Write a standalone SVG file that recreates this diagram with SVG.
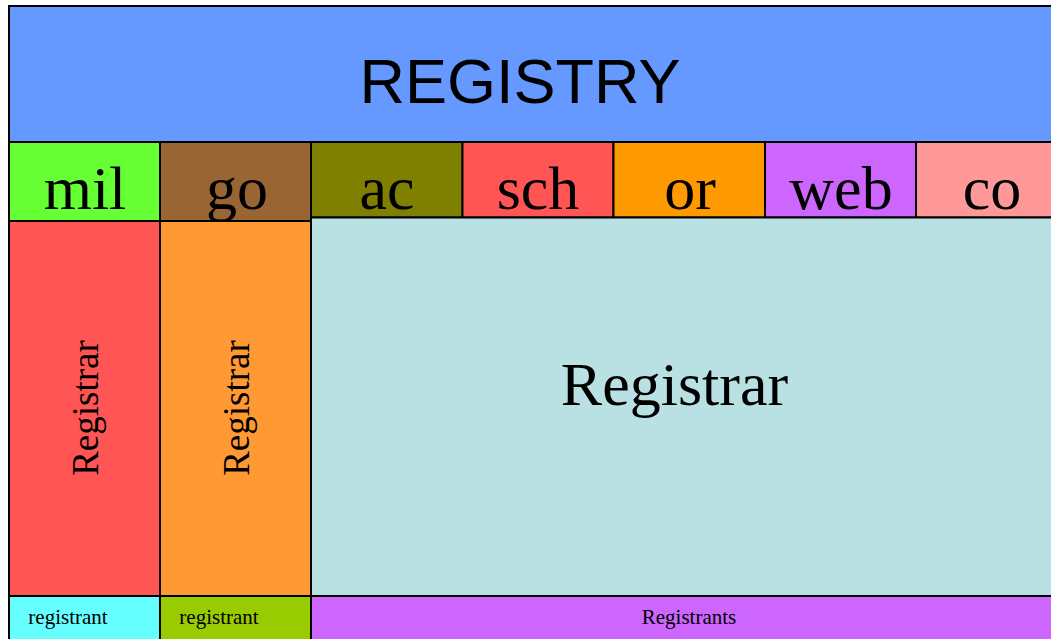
<svg xmlns="http://www.w3.org/2000/svg" width="1051" height="639" viewBox="0 0 1051 639">
<style>
.b{stroke:#000;stroke-width:2}
.s{font-family:"Liberation Serif","Times New Roman",serif;fill:#000;text-anchor:middle}
.h{font-family:"Liberation Sans",Arial,sans-serif;fill:#000;text-anchor:middle}
</style>
<rect width="1051" height="639" fill="#fff"/>
<g id="registry"><rect class="b" x="9" y="6" width="1060" height="136" fill="#6699FF"/><text class="h" x="520" y="103" font-size="63">REGISTRY</text></g>
<g id="mil"><rect class="b" x="9" y="142" width="151" height="79" fill="#66FF33"/><text class="s" x="85" y="209" font-size="62">mil</text></g>
<g id="go"><rect class="b" x="160" y="142" width="151" height="79" fill="#996633"/><text class="s" x="237" y="209" font-size="62">go</text></g>
<g id="ac"><rect class="b" x="311" y="142" width="151.5" height="75.5" fill="#808000"/><text class="s" x="387" y="209" font-size="62">ac</text></g>
<g id="sch"><rect class="b" x="462.5" y="142" width="151" height="75.5" fill="#FF5555"/><text class="s" x="538" y="209" font-size="62">sch</text></g>
<g id="or"><rect class="b" x="613.5" y="142" width="151.5" height="75.5" fill="#FF9900"/><text class="s" x="690" y="209" font-size="62">or</text></g>
<g id="web"><rect class="b" x="765" y="142" width="151" height="75.5" fill="#CC66FF"/><text class="s" x="841" y="209" font-size="62">web</text></g>
<g id="co"><rect class="b" x="916" y="142" width="160" height="75.5" fill="#FF9999"/><text class="s" x="992" y="209" font-size="62">co</text></g>
<g id="registrar-mil"><rect class="b" x="9" y="221" width="151" height="375" fill="#FF5555"/><text class="s" transform="translate(98,408) rotate(-90)" font-size="37">Registrar</text></g>
<g id="registrar-go"><rect class="b" x="160" y="221" width="151" height="375" fill="#FF9933"/><text class="s" transform="translate(249,408) rotate(-90)" font-size="37">Registrar</text></g>
<g id="registrar"><rect class="b" x="311" y="217.5" width="760" height="378.5" fill="#B9E0E3"/><text class="s" x="674.5" y="405" font-size="62">Registrar</text></g>
<g id="registrant-mil"><rect class="b" x="9" y="596" width="151" height="60" fill="#66FFFF"/><text class="s" x="68" y="624" font-size="21">registrant</text></g>
<g id="registrant-go"><rect class="b" x="160" y="596" width="151" height="60" fill="#99CC00"/><text class="s" x="219" y="624" font-size="21">registrant</text></g>
<g id="registrants"><rect class="b" x="311" y="596" width="760" height="60" fill="#CC66FF"/><text class="s" x="689" y="624" font-size="21">Registrants</text></g>
<g id="connectors"/>
</svg>
